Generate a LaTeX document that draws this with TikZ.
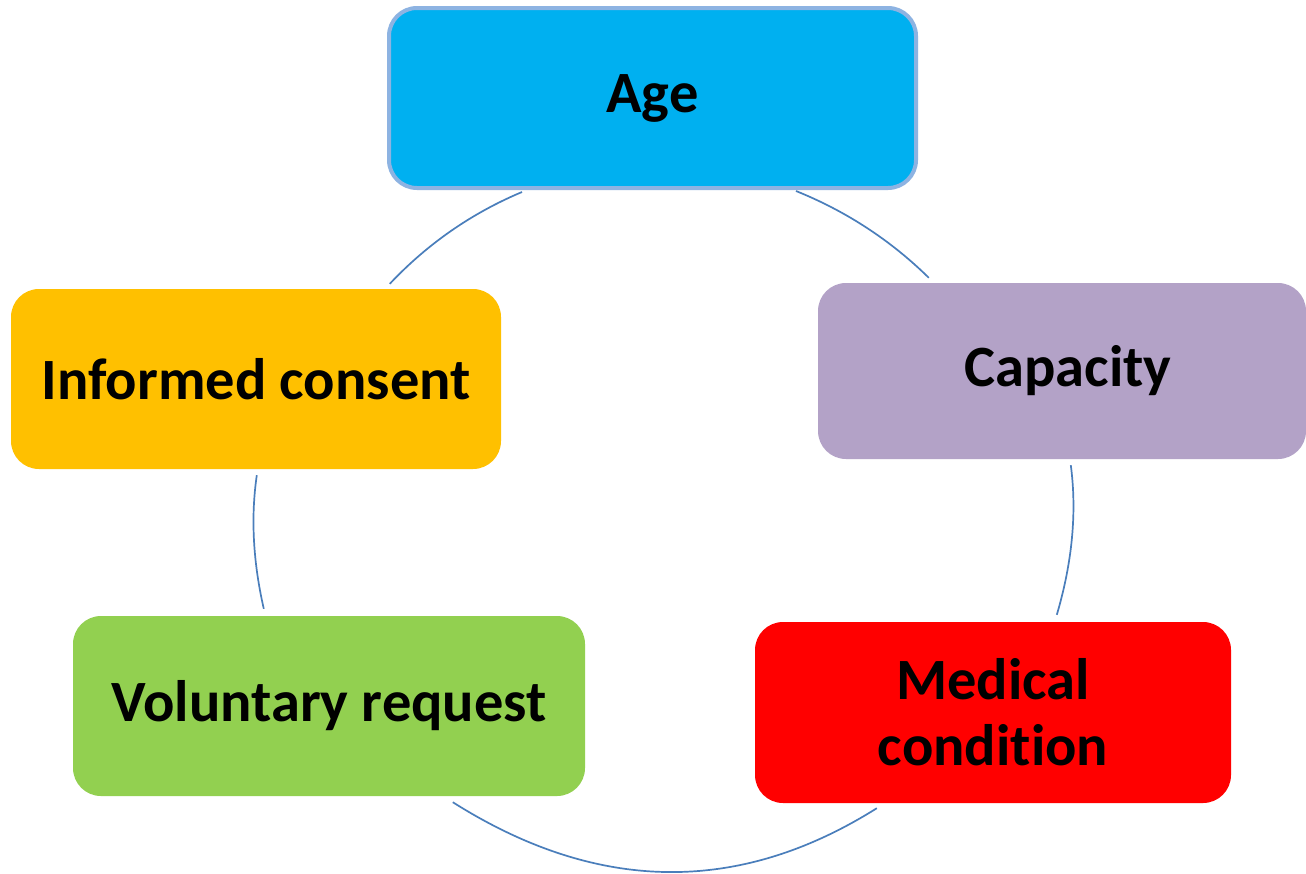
\documentclass[tikz,border=0pt]{standalone}
\usepackage{fontspec}
\setmainfont{Carlito}[Ligatures=NoCommon]
\definecolor{agec}{HTML}{00B0F0}
\definecolor{ageb}{HTML}{8DB3E2}
\definecolor{infc}{HTML}{FFC000}
\definecolor{capc}{HTML}{B3A2C7}
\definecolor{volc}{HTML}{92D050}
\definecolor{medc}{HTML}{FF0000}
\definecolor{linkc}{HTML}{4A7EBB}
\begin{document}
\begin{tikzpicture}[x=1pt,y=-1pt,
  box/.style={rectangle, rounded corners=28pt, inner sep=0pt, align=center,
    font=\fontsize{58.5pt}{66pt}\selectfont\bfseries, text=black},
  link/.style={draw=linkc, line width=1.7pt}]
\useasboundingbox[fill=white] (0,0) rectangle (1306,873);

\node[box, fill=agec, draw=ageb, line width=4pt, minimum width=527pt, minimum height=180pt] (age) at (652.5,98) {\raisebox{-3pt}{Age}};
\node[box, fill=infc, minimum width=490pt, minimum height=180pt] (inf) at (256,379) {Informed consent};
\node[box, fill=capc, minimum width=488pt, minimum height=176pt] (cap) at (1062,371) {\hspace*{12pt}Capacity};
\node[box, fill=volc, minimum width=512pt, minimum height=180pt] (vol) at (329,706) {Voluntary request};
\node[box, fill=medc, minimum width=476pt, minimum height=181pt] (med) at (993,712.5) {Medical\\condit\kern0pt ion};

\draw[link] ([xshift=135pt,yshift=-2pt]age.south west) .. controls (471.3,213.3) and (427.3,244) .. ([xshift=379pt,yshift=5pt]inf.north west);
\draw[link] ([xshift=409pt,yshift=-1pt]age.south west) .. controls (846.3,211.3) and (890.7,240.3) .. ([xshift=111pt,yshift=5pt]cap.north west);
\draw[link] ([xshift=253pt,yshift=-6pt]cap.south west) .. controls (1077,512.3) and (1072.3,562.3) .. ([xshift=302pt,yshift=7pt]med.north west);
\draw[link] ([xshift=122pt,yshift=-5pt]med.south west) .. controls (738.3,895.3) and (597,893.3) .. ([xshift=380pt,yshift=-6pt]vol.south west);
\draw[link] ([xshift=191pt,yshift=7pt]vol.north west) .. controls (253,561.7) and (250.7,517) .. ([xshift=246pt,yshift=-6pt]inf.south west);
\end{tikzpicture}
\end{document}
